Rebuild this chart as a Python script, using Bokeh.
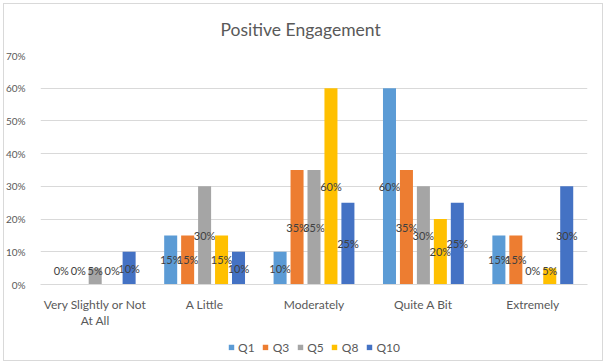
from bokeh.plotting import figure
from bokeh.layouts import column
from bokeh.models import (ColumnDataSource, Range1d, FactorRange, Legend, LegendItem,
                          PrintfTickFormatter, FixedTicker, CategoricalAxis,
                          CustomJSTickFormatter)
from bokeh.transform import dodge
from bokeh.core.properties import value
from bokeh.embed import file_html
from bokeh.resources import INLINE

# ---- data ----
categories = ["Very Slightly or Not At All", "A Little", "Moderately", "Quite A Bit", "Extremely"]
series = ["Q1", "Q3", "Q5", "Q8", "Q10"]
q1 = [0, 15, 10, 60, 15]
q3 = [0, 15, 35, 35, 15]
q5 = [5, 30, 35, 30, 0]
q8 = [0, 15, 60, 20, 5]
q10 = [10, 10, 25, 25, 30]
y_ticks = [0, 10, 20, 30, 40, 50, 60, 70]
title_text = "Positive Engagement"

values_by_series = [q1, q3, q5, q8, q10]
colors = ["#5B9BD5", "#ED7D31", "#A5A5A5", "#FFC000", "#4472C4"]
offsets = [-0.31, -0.155, 0.0, 0.155, 0.31]
FONT = "Lato"
TXT = "#595959"

WRAP_JS = """
const words = String(tick).split(' ');
let l1 = '';
let i = 0;
while (i < words.length && (l1 + (l1 ? ' ' : '') + words[i]).length <= 20) {
  l1 += (l1 ? ' ' : '') + words[i];
  i++;
}
const l2 = words.slice(i).join(' ');
return LINE == 1 ? l1 : (l2 || ' ');
"""

p = figure(width=606, height=330, x_range=FactorRange(factors=categories),
           y_range=Range1d(0, 70), output_backend="svg", toolbar_location=None,
           min_border_left=40, min_border_right=19, min_border_top=55, min_border_bottom=38)
p.outline_line_color = None
p.background_fill_color = "white"
p.border_fill_color = "white"

p.title.text = title_text
p.title.align = "left"
p.title.offset = 180
p.title.standoff = 31
p.title.text_font = FONT
p.title.text_font_size = "17.5px"
p.title.text_font_style = "normal"
p.title.text_color = TXT

p.xgrid.grid_line_color = None
p.ygrid.grid_line_color = "#D9D9D9"
p.ygrid.grid_line_width = 1

p.yaxis.ticker = FixedTicker(ticks=y_ticks)
p.yaxis.formatter = PrintfTickFormatter(format="%d%%")
p.yaxis.axis_line_color = None
p.yaxis.major_tick_line_color = None
p.yaxis.minor_tick_line_color = None
p.yaxis.major_label_text_font = FONT
p.yaxis.major_label_text_font_size = "10px"
p.yaxis.major_label_text_color = TXT
p.yaxis.major_label_standoff = 9

def style_xaxis(ax, standoff):
    ax.major_tick_line_color = None
    ax.minor_tick_line_color = None
    ax.major_label_text_font = FONT
    ax.major_label_text_font_size = "12px"
    ax.major_label_text_color = TXT
    ax.major_label_standoff = standoff

p.xaxis.axis_line_color = "#D9D9D9"
style_xaxis(p.xaxis[0], 6)
p.xaxis[0].formatter = CustomJSTickFormatter(code=WRAP_JS.replace("LINE", "1"))

ax2 = CategoricalAxis(axis_line_color=None,
                      formatter=CustomJSTickFormatter(code=WRAP_JS.replace("LINE", "2")))
style_xaxis(ax2, -8)
p.add_layout(ax2, "below")

sources = []
for name, vals, col, off in zip(series, values_by_series, colors, offsets):
    src = ColumnDataSource(dict(
        cat=categories, top=vals,
        ly=[max(v / 2.0, 4.2) for v in vals],
        lab=["%d%%" % v for v in vals]))
    sources.append(src)
    p.vbar(x=dodge("cat", off, range=p.x_range), top="top", bottom=0, width=0.119,
           source=src, fill_color=col, line_color=None)
    p.text(x=dodge("cat", off, range=p.x_range), y="ly", text="lab", source=src,
           text_align="center", text_baseline="middle", text_font_size="11px",
           text_color="#404040", text_font=value(FONT))

# legend strip under the chart (hidden copies of the bars only feed the legend)
lf = figure(width=606, height=34, x_range=p.x_range, y_range=Range1d(0, 70),
            x_axis_type=None, y_axis_type=None, output_backend="svg",
            toolbar_location=None, min_border=0)
lf.outline_line_color = None
lf.background_fill_color = "white"
lf.border_fill_color = "white"
lf.xgrid.grid_line_color = None
lf.ygrid.grid_line_color = None
items = []
for name, src, col, off in zip(series, sources, colors, offsets):
    r = lf.vbar(x=dodge("cat", off, range=lf.x_range), top="top", bottom=0, width=0.119,
                source=src, fill_color=col, line_color=None, visible=False)
    items.append(LegendItem(label=name, renderers=[r]))
legend = Legend(items=items, orientation="horizontal", location="center",
                border_line_color=None, background_fill_alpha=0,
                inactive_fill_alpha=0,
                glyph_width=7, glyph_height=7, label_text_font_size="12px",
                label_text_color=TXT, label_text_font=FONT, spacing=7,
                label_standoff=4, padding=0, margin=0, label_height=12, label_width=10)
lf.add_layout(legend, "center")

frame_css = (":host { position: relative; } "
             ":host::after { content: ''; position: absolute; left: 3px; top: 3px; "
             "right: 3px; bottom: 3px; border: 1px solid #D9D9D9; "
             "pointer-events: none; z-index: 100; }")
layout = column(p, lf, spacing=0, stylesheets=[frame_css])

open("out.html", "w").write(file_html(layout, INLINE))
